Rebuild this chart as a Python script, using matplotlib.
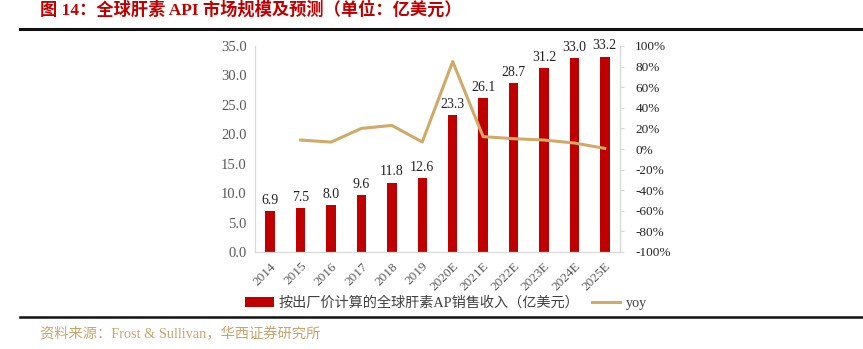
import matplotlib
matplotlib.use("Agg")
import matplotlib.pyplot as plt
from matplotlib.lines import Line2D
from matplotlib.patches import Patch
import numpy as np

categories = ["2014", "2015", "2016", "2017", "2018", "2019", "2020E", "2021E",
              "2022E", "2023E", "2024E", "2025E"]
revenue = [6.9, 7.5, 8.0, 9.6, 11.8, 12.6, 23.3, 26.1, 28.7, 31.2, 33.0, 33.2]
yoy = [None, 8.7, 6.7, 20.0, 22.9, 6.8, 84.9, 12.0, 10.0, 8.7, 5.8, 0.6]
left_ticks = [0, 5, 10, 15, 20, 25, 30, 35]
right_ticks = [-100, -80, -60, -40, -20, 0, 20, 40, 60, 80, 100]

SERIF = ["Liberation Serif", "Noto Sans CJK SC"]
MIX = ["Liberation Serif", "Noto Sans CJK SC", "DejaVu Sans"]
plt.rcParams["font.family"] = MIX

fig = plt.figure(figsize=(8.63, 3.49), dpi=100)
ax = fig.add_axes([255/863, 1-252/349, 365/863, 206/349])
x = np.arange(len(categories))
bar_color = "#C00000"
line_color = "#CFAA68"

ax.bar(x, revenue, width=0.31, color=bar_color, zorder=2)
for xi, v in zip(x, revenue):
    ax.text(xi, v + 0.7, f"{v:.1f}", ha="center", va="bottom", fontsize=10,
            color="#222222", family=SERIF)
ax.set_xlim(-0.5, len(categories) - 0.5)
ax.set_ylim(0, 35)
ax.set_yticks(left_ticks)
ax.set_yticklabels([f"{t:.1f}" for t in left_ticks], fontsize=10.5, color="#595959")
ax.set_xticks(x)
ax.set_xticklabels(categories, rotation=45, ha="right", rotation_mode="anchor",
                   fontsize=9.5, color="#595959")
ax.tick_params(axis="both", length=0, pad=6)
ax.tick_params(axis="x", pad=6)
for s in ["top"]:
    ax.spines[s].set_visible(False)
for s in ["left", "bottom", "right"]:
    ax.spines[s].set_color("#D9D9D9")
    ax.spines[s].set_linewidth(0.9)

ax2 = ax.twinx()
xs = [xi for xi, v in zip(x, yoy) if v is not None]
ys = [v for v in yoy if v is not None]
ax2.plot(xs, ys, color=line_color, linewidth=2.2, zorder=3)
ax2.set_ylim(-100, 100)
ax2.set_yticks(right_ticks)
ax2.set_yticklabels([f"{t}%" for t in right_ticks], fontsize=9.5, color="#222222")
ax2.tick_params(axis="y", length=3, color="#D9D9D9", pad=8)
for s in ["top", "left", "bottom"]:
    ax2.spines[s].set_visible(False)
ax2.spines["right"].set_color("#D9D9D9")

handles = [Patch(facecolor=bar_color, edgecolor="none"),
           Line2D([0], [0], color=line_color, linewidth=2.2)]
labels = ["按出厂价计算的全球肝素AP销售收入（亿美元）", "yoy"]
leg = fig.legend(handles, labels, loc="center", bbox_to_anchor=(446/863, 1-303/349),
                 ncol=2, frameon=False, fontsize=10.2, handlelength=2.0,
                 handleheight=0.7, columnspacing=0.9, handletextpad=0.35)
for t in leg.get_texts():
    t.set_color("#404040")

fig.text(40/863, 1-10/349, "图 14：全球肝素 API 市场规模及预测（单位：亿美元）",
         fontsize=12.4, fontweight="bold", color="#C00000", va="center", ha="left",
         family=MIX)
fig.add_artist(Line2D([20/863, 1], [1-29/349, 1-29/349], color="#111111", linewidth=2.2))
fig.add_artist(Line2D([20/863, 1], [1-317/349, 1-317/349], color="#111111", linewidth=1.8))
fig.text(40/863, 1-334/349, "资料来源：Frost & Sullivan，华西证券研究所", fontsize=10.3,
         color="#C8A46E", va="center", ha="left", family=MIX)

fig.savefig("out.png", dpi=100)
